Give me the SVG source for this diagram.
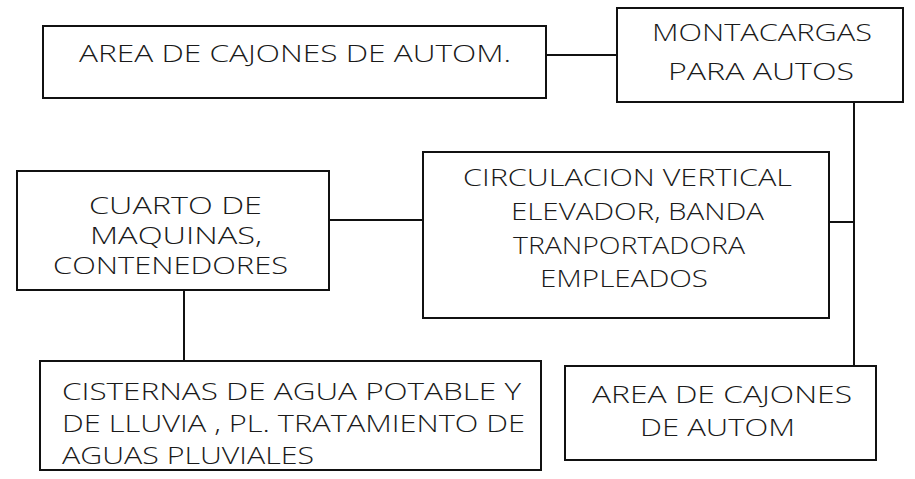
<svg xmlns="http://www.w3.org/2000/svg" width="915" height="479" viewBox="0 0 915 479">
<style>
.box{fill:#fff;stroke:#111;stroke-width:2}
.con{stroke:#111;stroke-width:2;fill:none}
text{font-family:"Open Sans","Noto Sans","DejaVu Sans",sans-serif;font-weight:300;font-size:24px;fill:#1a1a1a}
</style>
<rect width="915" height="479" fill="#fff"/>
<g id="connectors">
<line class="con" x1="546" y1="55" x2="617" y2="55"/>
<line class="con" x1="854" y1="102" x2="854" y2="366"/>
<line class="con" x1="829" y1="222" x2="854" y2="222"/>
<line class="con" x1="329" y1="220" x2="423" y2="220"/>
<line class="con" x1="184" y1="290" x2="184" y2="361"/>
</g>
<g id="node-area-cajones-1">
<rect class="box" x="43" y="26" width="503" height="72"/>
<text x="79" y="62" textLength="432" lengthAdjust="spacingAndGlyphs">AREA DE CAJONES DE AUTOM.</text>
</g>
<g id="node-montacargas">
<rect class="box" x="617" y="8" width="286" height="94"/>
<text x="652" y="41" textLength="220" lengthAdjust="spacingAndGlyphs">MONTACARGAS</text>
<text x="668" y="80" textLength="186" lengthAdjust="spacingAndGlyphs">PARA AUTOS</text>
</g>
<g id="node-circulacion">
<rect class="box" x="423" y="152" width="406" height="166"/>
<text x="463" y="186" textLength="329" lengthAdjust="spacingAndGlyphs">CIRCULACION VERTICAL</text>
<text x="511" y="220" textLength="253" lengthAdjust="spacingAndGlyphs">ELEVADOR, BANDA</text>
<text x="513" y="254" textLength="232" lengthAdjust="spacingAndGlyphs">TRANPORTADORA</text>
<text x="540" y="287" textLength="168" lengthAdjust="spacingAndGlyphs">EMPLEADOS</text>
</g>
<g id="node-cuarto-maquinas">
<rect class="box" x="17" y="171" width="312" height="119"/>
<text x="89" y="214" textLength="173" lengthAdjust="spacingAndGlyphs">CUARTO DE</text>
<text x="90" y="244" textLength="172" lengthAdjust="spacingAndGlyphs">MAQUINAS,</text>
<text x="53" y="274" textLength="235" lengthAdjust="spacingAndGlyphs">CONTENEDORES</text>
</g>
<g id="node-cisternas">
<rect class="box" x="40" y="361" width="501" height="109"/>
<text x="62" y="400" textLength="459" lengthAdjust="spacingAndGlyphs">CISTERNAS DE AGUA POTABLE Y</text>
<text x="62" y="432" textLength="463" lengthAdjust="spacingAndGlyphs">DE LLUVIA , PL. TRATAMIENTO DE</text>
<text x="62" y="464" textLength="252" lengthAdjust="spacingAndGlyphs">AGUAS PLUVIALES</text>
</g>
<g id="node-area-cajones-2">
<rect class="box" x="565" y="366" width="311" height="94"/>
<text x="592" y="403" textLength="260" lengthAdjust="spacingAndGlyphs">AREA DE CAJONES</text>
<text x="640" y="436" textLength="155" lengthAdjust="spacingAndGlyphs">DE AUTOM</text>
</g>
</svg>
